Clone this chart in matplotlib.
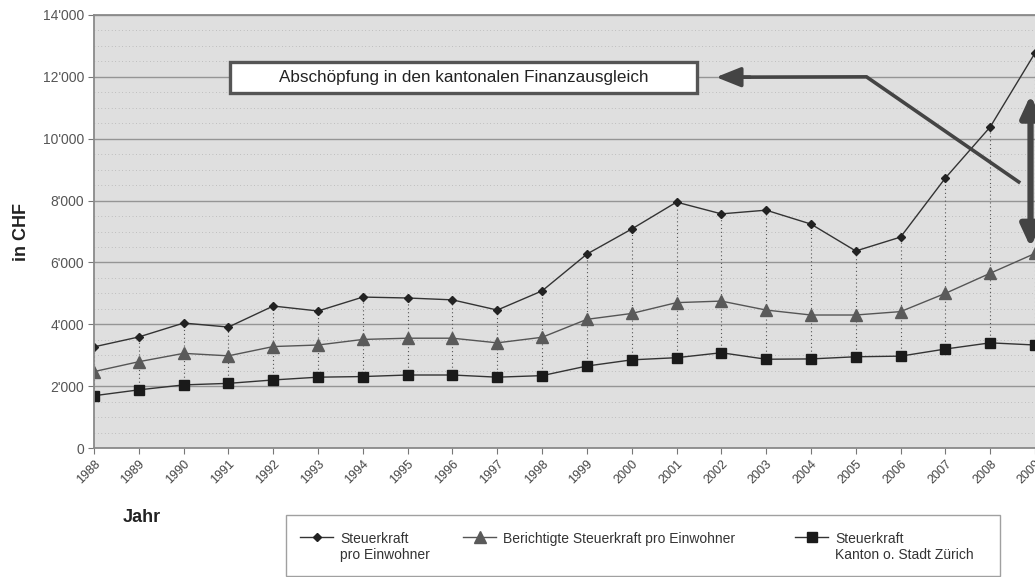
import matplotlib
matplotlib.use("Agg")
import matplotlib.pyplot as plt
from matplotlib.ticker import FuncFormatter, MultipleLocator
from matplotlib.patches import Rectangle

years = list(range(1988, 2010))
steuerkraft = [3270, 3590, 4040, 3910, 4590, 4430, 4880, 4850, 4790, 4460, 5080,
               6270, 7080, 7950, 7570, 7690, 7240, 6370, 6820, 8730, 10380, 12770]
berichtigt = [2470, 2790, 3060, 2980, 3280, 3330, 3510, 3550, 3550, 3400, 3580,
              4160, 4350, 4700, 4750, 4460, 4300, 4300, 4410, 5000, 5650, 6290]
kanton = [1690, 1880, 2040, 2090, 2200, 2290, 2310, 2360, 2360, 2290, 2340,
          2650, 2850, 2920, 3080, 2870, 2880, 2950, 2970, 3200, 3400, 3330]
labels = ["Steuerkraft\npro Einwohner", "Berichtigte Steuerkraft pro Einwohner",
          "Steuerkraft\nKanton o. Stadt Zürich"]
annot_text = "Abschöpfung in den kantonalen Finanzausgleich"

plt.rcParams['font.family'] = ['Liberation Sans', 'DejaVu Sans']

W, H = 1035, 577
fig = plt.figure(figsize=(W / 100, H / 100), dpi=100)
ax = fig.add_axes([94 / W, 1 - 448 / H, (W - 94) / W, 433 / H])
ax.set_facecolor('#dfdfdf')

ax.set_xlim(1988, 1988 + (W - 94) / 45.0)
ax.set_ylim(0, 14000)
ax.yaxis.set_major_locator(MultipleLocator(2000))
ax.yaxis.set_minor_locator(MultipleLocator(500))
ax.yaxis.set_major_formatter(FuncFormatter(lambda v, p: f"{int(v):,}".replace(",", "'")))
ax.set_xticks(years)
ax.set_xticklabels([str(y) for y in years], rotation=45, ha='right', rotation_mode='anchor',
                   fontsize=9, color='#444444')
ax.tick_params(axis='y', labelsize=10, labelcolor='#555555', colors='#777777', length=4, which='major', pad=3)
ax.tick_params(axis='y', which='minor', length=0)
ax.tick_params(axis='x', length=4, colors='#777777', labelcolor='#444444', pad=3)

ax.grid(axis='y', which='major', color='#959595', lw=1.0)
ax.grid(axis='y', which='minor', color='#a0a0a0', lw=0.5, ls=(0, (1, 4)))
ax.set_axisbelow(True)
for s in ['left', 'bottom', 'top']:
    ax.spines[s].set_color('#8a8a8a')
    ax.spines[s].set_linewidth(1.3)
ax.spines['right'].set_visible(False)

# high-low drop lines
ax.vlines(years, kanton, steuerkraft, colors='#555555', lw=0.8, linestyles=(0, (1, 2.5)))

ax.plot(years, steuerkraft, color='#333333', lw=1.0, marker='D', ms=4, mfc='#222222', mec='#222222', label=labels[0])
ax.plot(years, berichtigt, color='#555555', lw=1.0, marker='^', ms=9, mfc='#5a5a5a', mec='#5a5a5a', label=labels[1])
ax.plot(years, kanton, color='#333333', lw=1.0, marker='s', ms=6.5, mfc='#1a1a1a', mec='#1a1a1a', label=labels[2])

# annotation box
ax.add_patch(Rectangle((1991.04, 11480), 10.42, 1000, fc='white', ec='#555555', lw=2.4, zorder=5))
ax.text(1996.25, 11990, annot_text, ha='center', va='center', fontsize=12.3, color='#222222', zorder=6)
# bent arrow
ax.plot([2008.67, 2005.24, 2002.3], [8570, 12000, 11990], color='#444444', lw=2.6, zorder=5,
        solid_capstyle='butt', solid_joinstyle='miter')
ax.annotate('', xy=(2001.82, 11990), xytext=(2002.7, 11990),
            arrowprops=dict(arrowstyle='-|>,head_length=1.5,head_width=0.6', color='#444444', lw=2.6),
            zorder=6)
# double arrow
ax.annotate('', xy=(2008.9, 11500), xytext=(2008.9, 6400),
            arrowprops=dict(arrowstyle='<|-|>,head_length=1.3,head_width=0.6', color='#444444', lw=4.5),
            zorder=6)

fig.text(21 / W, 1 - 232 / H, 'in CHF', rotation=90, ha='center', va='center', fontsize=13,
         fontweight='bold', color='#222222')
fig.text(142 / W, 1 - 518 / H, 'Jahr', ha='center', va='center', fontsize=13,
         fontweight='bold', color='#222222')

# legend frame
fig.add_artist(Rectangle((286 / W, 1 - 576 / H), (1000 - 286) / W, (576 - 515) / H,
                         transform=fig.transFigure, fc='white', ec='#a0a0a0', lw=1.0))
handles, labs = ax.get_legend_handles_labels()
hx = [300, 463, 795]
for h, l, x0 in zip(handles, labs, hx):
    lg = fig.legend([h], [l], loc='upper left', bbox_to_anchor=(x0 / W, 1 - 532 / H),
                    fontsize=10, frameon=False, borderpad=0, borderaxespad=0,
                    handlelength=2.4, handletextpad=0.5, labelcolor='#333333')
    lg.set_zorder(10)
    try:
        for col in lg._legend_handle_box.get_children():
            for row in col.get_children():
                row.align = 'top'
    except Exception:
        pass

fig.savefig('out.png', dpi=100)
